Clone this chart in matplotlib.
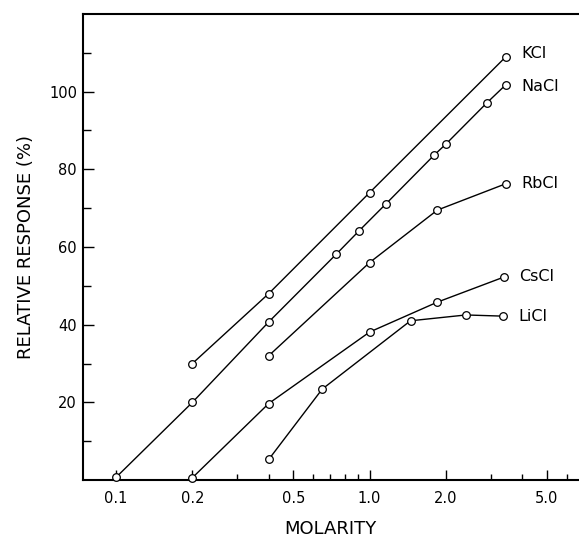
import matplotlib
matplotlib.use("Agg")
import matplotlib.pyplot as plt
from matplotlib.ticker import FixedLocator, NullFormatter

### data
kcl_m = [0.2, 0.4, 1.0, 3.45]
kcl_r = [30.0, 48.0, 74.0, 109.0]
nacl_m = [0.1, 0.2, 0.4, 0.74, 0.91, 1.16, 1.8, 2.0, 2.9, 3.45]
nacl_r = [0.7, 20.0, 40.7, 58.2, 64.2, 71.1, 83.7, 86.5, 97.1, 101.8]
rbcl_m = [0.4, 1.0, 1.85, 3.45]
rbcl_r = [32.0, 56.0, 69.5, 76.3]
cscl_m = [0.2, 0.4, 1.0, 1.85, 3.4]
cscl_r = [0.6, 19.7, 38.1, 45.8, 52.3]
licl_m = [0.4, 0.65, 1.45, 2.4, 3.35]
licl_r = [5.3, 23.4, 41.0, 42.5, 42.2]

series = [
    ("KCl", kcl_m, kcl_r, 2),
    ("NaCl", nacl_m, nacl_r, -1.5),
    ("RbCl", rbcl_m, rbcl_r, 0),
    ("CsCl", cscl_m, cscl_r, 0),
    ("LiCl", licl_m, licl_r, 0),
]

x_major = [0.1, 0.2, 0.5, 1.0, 2.0, 5.0]
x_major_labels = ["0.1", "0.2", "0.5", "1.0", "2.0", "5.0"]
x_minor = [0.3, 0.4, 0.6, 0.7, 0.8, 0.9, 3.0, 4.0, 6.0]
y_major = [20, 40, 60, 80, 100]
y_minor = [10, 30, 50, 70, 90, 110]

plt.rcParams['font.family'] = ['DejaVu Sans']

fig = plt.figure(figsize=(5.79, 5.37), dpi=100)
ax = fig.add_axes([0.1425, 0.1061, 0.8575, 0.8679])

for name, m, r, dy in series:
    ax.plot(m, r, color="black", lw=1.0, marker="o", ms=5.5,
            mfc="white", mec="black", mew=0.9, clip_on=False, zorder=3)
    ax.annotate(name, (m[-1], r[-1]), xytext=(11, dy), textcoords="offset points",
                ha="left", va="center", fontsize=11.5, color="black")

ax.set_xscale("log")
ax.set_xlim(0.0737, 6.7)
ax.set_ylim(0, 120)

ax.xaxis.set_major_locator(FixedLocator(x_major))
ax.xaxis.set_minor_locator(FixedLocator(x_minor))
ax.set_xticks(x_major, x_major_labels)
ax.xaxis.set_minor_formatter(NullFormatter())
ax.set_yticks(y_major)
ax.set_yticks(y_minor, minor=True)

ax.tick_params(axis="x", which="major", direction="in", length=7.5, width=1.0,
               pad=8, labelsize=10.5)
ax.tick_params(axis="x", which="minor", direction="in", length=4.5, width=1.0)
ax.tick_params(axis="y", which="major", direction="in", length=8, width=1.0,
               pad=4, labelsize=10.5)
ax.tick_params(axis="y", which="minor", direction="in", length=5.5, width=1.0)

ax.spines["right"].set_visible(False)
for s in ["left", "bottom", "top"]:
    ax.spines[s].set_linewidth(1.5)

ax.set_xlabel("MOLARITY", fontsize=13, labelpad=10)
ax.set_ylabel("RELATIVE RESPONSE (%)", fontsize=13, labelpad=10)

fig.savefig("out.png", dpi=100)
